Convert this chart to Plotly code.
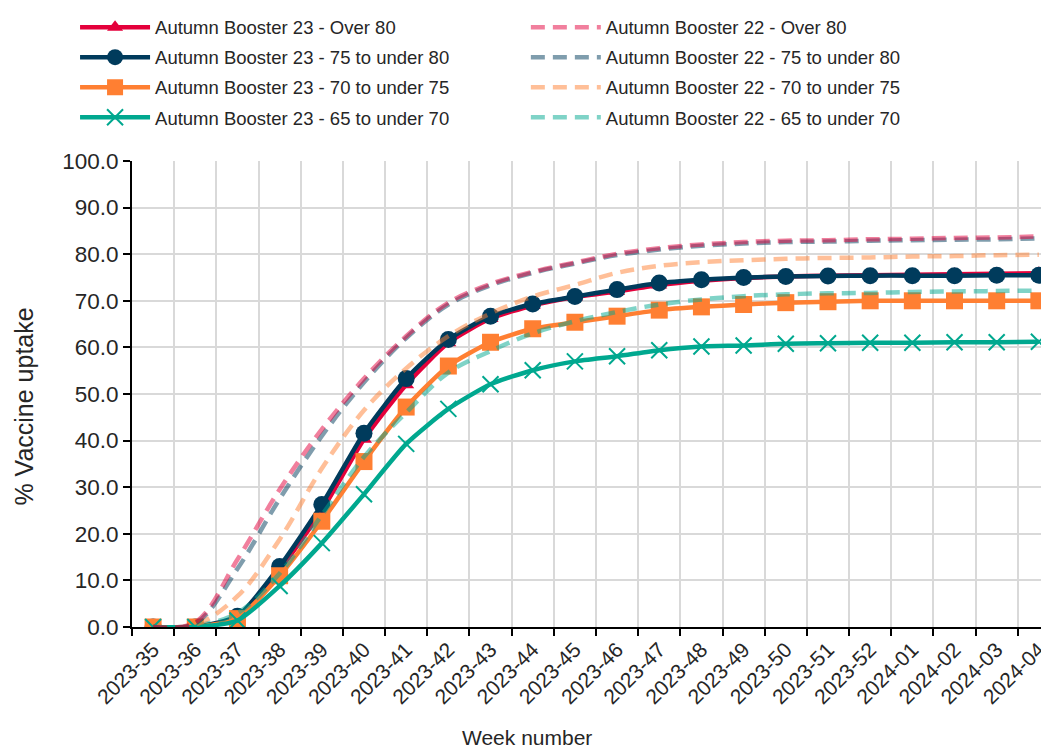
import plotly.graph_objects as go

weeks = ["2023-35", "2023-36", "2023-37", "2023-38", "2023-39", "2023-40", "2023-41",
         "2023-42", "2023-43", "2023-44", "2023-45", "2023-46", "2023-47", "2023-48",
         "2023-49", "2023-50", "2023-51", "2023-52", "2024-01", "2024-02", "2024-03", "2024-04"]

ab23_over80 = [0, 0, 2.0, 12.3, 25.0, 40.3, 52.0, 61.0, 66.2, 69.0, 70.8, 72.0, 73.4, 74.3,
               74.9, 75.2, 75.4, 75.5, 75.6, 75.7, 75.8, 75.9]
ab23_75_80 = [0, 0, 2.3, 13.0, 26.3, 41.6, 53.3, 61.7, 66.7, 69.3, 70.9, 72.4, 73.8, 74.5,
              75.0, 75.2, 75.3, 75.4, 75.4, 75.4, 75.5, 75.5]
ab23_70_75 = [0, 0, 1.8, 11.0, 22.7, 35.5, 47.2, 56.0, 61.1, 64.0, 65.4, 66.7, 68.0, 68.7,
              69.2, 69.6, 69.8, 70.0, 70.0, 70.0, 70.0, 70.0]
ab23_65_70 = [0, 0, 1.4, 8.8, 18.0, 28.5, 39.3, 46.8, 52.1, 55.1, 57.0, 58.1, 59.4, 60.2,
              60.4, 60.8, 60.9, 61.0, 61.0, 61.1, 61.1, 61.2]

ab22_over80 = [0, 1.0, 14.5, 29.5, 42.4, 53.3, 62.4, 69.6, 73.6, 76.2, 78.2, 80.1, 81.3, 82.1,
               82.6, 82.9, 83.0, 83.2, 83.3, 83.5, 83.6, 83.8]
ab22_75_80 = [0, 0.8, 12.5, 27.5, 41.0, 52.5, 62.0, 69.2, 73.3, 76.0, 78.0, 79.8, 81.0, 81.8,
              82.3, 82.6, 82.7, 82.9, 83.0, 83.1, 83.2, 83.4]
ab22_70_75 = [0, 0.5, 6.6, 18.8, 34.0, 46.5, 55.5, 62.4, 67.3, 70.9, 73.4, 76.0, 77.5, 78.3,
              78.7, 79.0, 79.2, 79.3, 79.5, 79.6, 79.8, 79.9]
ab22_65_70 = [0, 0.3, 3.0, 11.5, 24.0, 36.5, 46.0, 54.6, 59.2, 63.0, 65.6, 67.6, 69.2, 70.3,
              71.0, 71.4, 71.6, 71.7, 71.9, 72.0, 72.1, 72.2]

names23 = ["Autumn Booster 23 - Over 80", "Autumn Booster 23 - 75 to under 80",
           "Autumn Booster 23 - 70 to under 75", "Autumn Booster 23 - 65 to under 70"]
names22 = ["Autumn Booster 22 - Over 80", "Autumn Booster 22 - 75 to under 80",
           "Autumn Booster 22 - 70 to under 75", "Autumn Booster 22 - 65 to under 70"]
colors23 = ["#E4003B", "#003B5C", "#FF7F32", "#00A88F"]
colors22 = ["rgba(228,0,59,0.5)", "rgba(0,59,92,0.5)", "rgba(255,127,50,0.5)", "rgba(0,168,143,0.5)"]
symbols = ["triangle-up", "circle", "square", "x-thin"]
msizes = [14, 17, 17, 16]

series23 = [ab23_over80, ab23_75_80, ab23_70_75, ab23_65_70]
series22 = [ab22_over80, ab22_75_80, ab22_70_75, ab22_65_70]

fig = go.Figure()

for i in range(4):
    sym = symbols[i]
    mk = dict(symbol=sym, size=msizes[i], color=colors23[i])
    if sym == "x-thin":
        mk["line"] = dict(color=colors23[i], width=2)
    fig.add_trace(go.Scatter(
        x=weeks, y=series23[i], name=names23[i], mode="lines+markers",
        line=dict(color=colors23[i], width=4.5, shape="spline", smoothing=0.6),
        marker=mk, legend="legend", legendgroup="a%d" % i, legendrank=i + 1,
    ))

for i in [3, 2, 1, 0]:
    fig.add_trace(go.Scatter(
        x=weeks, y=series22[i], name=names22[i], mode="lines",
        line=dict(color=colors22[i], width=4.5, dash="14px,8px", shape="spline", smoothing=1.0),
        legend="legend2", legendgroup="b%d" % i, legendrank=i + 1,
    ))

font_family = "Liberation Sans, Arial, sans-serif"
txt = "#262626"
PLOT_H = 466.4
legend_common = dict(
    orientation="v", xanchor="left", yanchor="top", y=1.327,
    font=dict(family=font_family, size=18.5, color=txt),
    itemwidth=70, tracegroupgap=3, bgcolor="rgba(0,0,0,0)", borderwidth=0,
    traceorder="grouped",
)

fig.update_layout(
    width=1041, height=741,
    margin=dict(l=124, r=0, t=153, b=121.6),
    plot_bgcolor="white", paper_bgcolor="white",
    font=dict(family=font_family, color=txt),
    showlegend=True,
    legend=dict(x=-0.0621, **legend_common),
    legend2=dict(x=0.4295, **legend_common),
    xaxis=dict(
        type="category", range=[-0.5, 21.24], tickson="boundaries", automargin=False,
        showgrid=True, gridcolor="#D9D9D9", gridwidth=2,
        showline=True, linecolor="black", linewidth=2,
        ticks="outside", ticklen=7, tickwidth=2, tickcolor="black",
        tickangle=-45, tickfont=dict(size=21, color=txt),
    ),
    yaxis=dict(
        range=[0, 100], dtick=10, tickformat=".1f", automargin=False,
        showgrid=True, gridcolor="#D9D9D9", gridwidth=2,
        showline=True, linecolor="black", linewidth=2,
        ticks="outside", ticklen=7, tickwidth=2, tickcolor="black",
        tickfont=dict(size=22.5, color=txt),
        zeroline=False,
    ),
    annotations=[
        dict(text="Week number", xref="paper", yref="paper", x=(527 - 132) / 917, y=-(738 - 627.6) / PLOT_H,
             xanchor="center", yanchor="middle", showarrow=False,
             font=dict(size=21, color=txt, family=font_family)),
        dict(text="% Vaccine uptake", xref="paper", yref="paper", x=-(132 - 24) / 917, y=(627.6 - 407) / PLOT_H,
             xanchor="center", yanchor="middle", showarrow=False, textangle=-90,
             font=dict(size=25, color=txt, family=font_family)),
    ],
)

fig.write_html("out.html")
